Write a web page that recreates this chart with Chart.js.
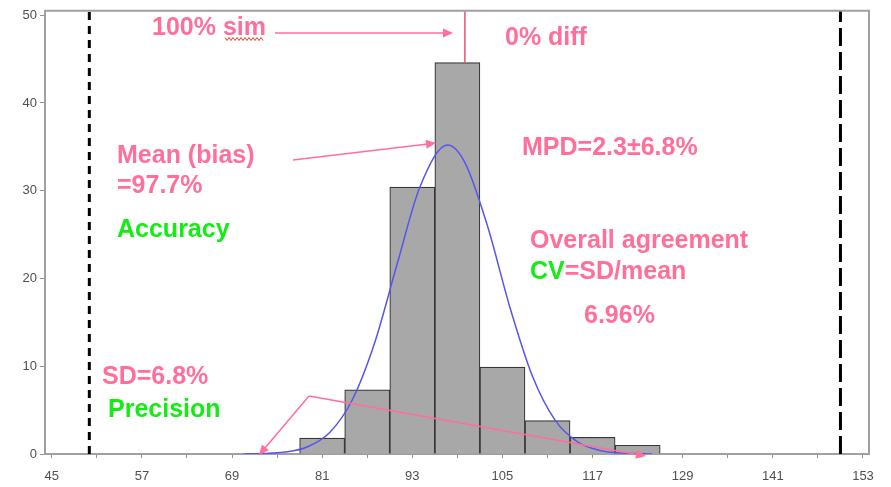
<!DOCTYPE html>
<html>
<head>
<meta charset="utf-8">
<script src="https://cdn.jsdelivr.net/npm/chart.js@4.4.1/dist/chart.umd.min.js"></script>
<style>
  html, body { margin: 0; padding: 0; background: #fff; }
  #wrap { width: 891px; height: 487px; }
</style>
</head>
<body>
<div id="wrap"><canvas id="hist"></canvas></div>
<script>
// histogram bins (percent of cases), bin width 6
const binCenters = [81, 87, 93, 99, 105, 111, 117, 123];
const binPercent = [1.8, 7.3, 30.4, 44.6, 9.9, 3.8, 1.9, 1.0];

// fitted normal curve
const curveX = [70.5, 73, 76, 79, 82, 85, 88, 91, 94, 97.7, 100, 103, 106, 109, 112, 115, 118, 121, 124.9];
const curveY = [0.01, 0.05, 0.22, 0.8, 2.45, 6.15, 12.7, 21.7, 30.4, 35.2, 33.2, 26.0, 16.7, 8.85, 3.86, 1.38, 0.41, 0.1, 0.01];

const limitLow = 50;
const limitHigh = 150;
const refLine = 100;

const xTicks = [45, 51, 57, 63, 69, 75, 81, 87, 93, 99, 105, 111, 117, 123, 129, 135, 141, 147, 153];
const yTicks = [0, 10, 20, 30, 40, 50];

const PINK = '#ff6f9a';
const GREEN = '#14ec14';
const FONT = '"Liberation Sans", Arial, sans-serif';

const arrow = (ctx, x1, y1, x2, y2) => {
  const a = Math.atan2(y2 - y1, x2 - x1);
  ctx.beginPath();
  ctx.moveTo(x1, y1);
  ctx.lineTo(x2 - 6 * Math.cos(a), y2 - 6 * Math.sin(a));
  ctx.stroke();
  ctx.beginPath();
  ctx.moveTo(x2, y2);
  ctx.lineTo(x2 - 10 * Math.cos(a) + 4.5 * Math.sin(a), y2 - 10 * Math.sin(a) - 4.5 * Math.cos(a));
  ctx.lineTo(x2 - 10 * Math.cos(a) - 4.5 * Math.sin(a), y2 - 10 * Math.sin(a) + 4.5 * Math.cos(a));
  ctx.closePath();
  ctx.fill();
};

const notes = {
  id: 'notes',
  afterDraw(chart) {
    const { ctx, chartArea: ca } = chart;
    ctx.save();

    // frame (top and right)
    ctx.strokeStyle = '#a0a0a0';
    ctx.lineWidth = 2;
    ctx.beginPath();
    ctx.moveTo(ca.left, ca.top);
    ctx.lineTo(ca.right, ca.top);
    ctx.lineTo(ca.right, ca.bottom);
    ctx.stroke();

    // arrows
    ctx.strokeStyle = PINK;
    ctx.fillStyle = PINK;
    ctx.lineWidth = 1.5;
    arrow(ctx, 275, 33, 453, 33);
    arrow(ctx, 293, 160, 436, 143);
    arrow(ctx, 309, 396, 259, 455);
    arrow(ctx, 309, 396, 646, 456);

    ctx.font = `bold 25px ${FONT}`;
    ctx.textBaseline = 'alphabetic';
    ctx.textAlign = 'left';
    const txt = (s, x, y, c) => { ctx.fillStyle = c; ctx.fillText(s, x, y); };
    txt('100% sim', 152, 35, PINK);
    txt('0% diff', 505, 45, PINK);
    txt('MPD=2.3\u00b16.8%', 522, 155, PINK);
    txt('Mean (bias)', 117, 163, PINK);
    txt('=97.7%', 117, 193, PINK);
    txt('Accuracy', 117, 237, GREEN);
    txt('Overall agreement', 530, 248, PINK);
    txt('CV', 530, 279, GREEN);
    txt('=SD/mean', 530 + ctx.measureText('CV').width, 279, PINK);
    txt('6.96%', 584, 323, PINK);
    txt('SD=6.8%', 102, 384, PINK);
    txt('Precision', 108, 417, GREEN);

    // spell-check squiggle under "sim"
    ctx.strokeStyle = '#e8402a';
    ctx.lineWidth = 1;
    ctx.beginPath();
    for (let x = 225, i = 0; x <= 263; x += 2, i++) {
      const y = 39 + (i % 2 ? 1.5 : -1.5);
      if (i === 0) ctx.moveTo(x, y); else ctx.lineTo(x, y);
    }
    ctx.stroke();
    ctx.restore();
  },
};

const vline = (x, y0, y1, color, width, dash) => ({
  type: 'line',
  data: [{ x, y: y0 }, { x, y: y1 }],
  borderColor: color,
  borderWidth: width,
  borderDash: dash,
  pointRadius: 0,
  order: 0,
});

new Chart(document.getElementById('hist'), {
  data: {
    datasets: [
      {
        type: 'bar',
        data: binCenters.map((c, i) => ({ x: c, y: binPercent[i] })),
        backgroundColor: '#a8a8a8',
        borderColor: '#383838',
        borderWidth: 1.2,
        barPercentage: 1,
        categoryPercentage: 1,
        order: 3,
      },
      {
        type: 'line',
        data: curveX.map((x, i) => ({ x, y: curveY[i] })),
        borderColor: '#5656ee',
        borderWidth: 1.5,
        pointRadius: 0,
        tension: 0.4,
        cubicInterpolationMode: 'monotone',
        order: 1,
      },
      vline(limitLow, 0, 50.5, '#000', 3, [8, 6]),
      vline(limitHigh, 0, 50.5, '#000', 3, [18, 6]),
      vline(refLine, binPercent[3], 50.5, '#f0506e', 1.5, []),
    ],
  },
  options: {
    responsive: true,
    maintainAspectRatio: false,
    animation: false,
    layout: { padding: { top: 7, right: 22, left: 0, bottom: 0 } },
    plugins: { legend: { display: false }, tooltip: { enabled: false } },
    scales: {
      x: {
        type: 'linear',
        offset: false,
        min: 44.1,
        max: 153.8,
        afterBuildTicks: (s) => { s.ticks = xTicks.map((v) => ({ value: v })); },
        afterFit: (s) => { s.height = 33; },
        ticks: {
          autoSkip: false,
          maxRotation: 0,
          padding: 11,
          color: '#505050',
          font: { family: FONT, size: 13 },
          callback: (v) => ((v - 45) % 12 === 0 ? String(v) : ''),
        },
        grid: { drawOnChartArea: false, offset: false, tickLength: 4, color: '#909090' },
        border: { color: '#a0a0a0', width: 2 },
      },
      y: {
        min: 0,
        max: 50.5,
        afterBuildTicks: (s) => { s.ticks = yTicks.map((v) => ({ value: v })); },
        afterFit: (s) => { s.width = 45; },
        ticks: {
          padding: 3,
          color: '#505050',
          font: { family: FONT, size: 13 },
        },
        grid: { drawOnChartArea: false, tickLength: 5, color: '#909090' },
        border: { color: '#a0a0a0', width: 2 },
      },
    },
  },
  plugins: [notes],
});
</script>
</body>
</html>
